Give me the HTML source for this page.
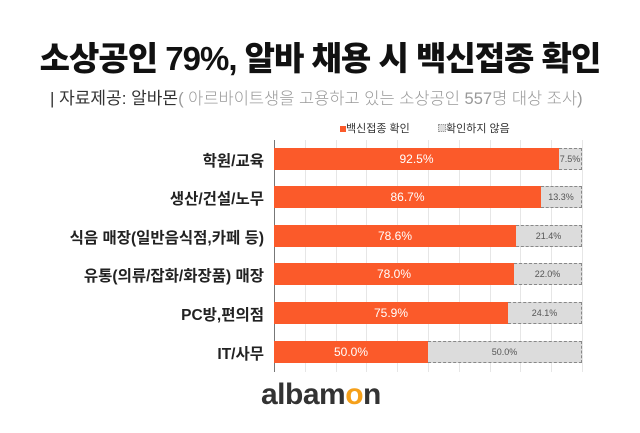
<!DOCTYPE html>
<html><head><meta charset="utf-8"><style>
body{margin:0;width:640px;height:433px;background:#fff;overflow:hidden;font-family:"Liberation Sans","Noto Sans CJK KR",sans-serif;position:relative}
.t{position:absolute;left:0;width:640px;text-align:center;top:32px;font-size:33px;font-weight:900;color:#111;letter-spacing:-1px}
.s{position:absolute;left:50px;top:84px;font-size:17px;color:#333}
.s span{color:#999;font-weight:300;font-size:16.5px}
.lg{position:absolute;top:120px;font-size:11px;color:#333}
.lab{position:absolute;right:376px;font-size:15.5px;font-weight:bold;color:#222;text-align:right;white-space:nowrap}
.bo{position:absolute;left:274px;height:22px;background:#fb5a2a;color:#fff;font-size:12px;text-align:center;line-height:22px}
.bg{position:absolute;height:21px;background:#dcdcdc;border:1px dashed #888;border-left:none;color:#555;font-size:9px;text-align:center;line-height:21px;box-sizing:border-box;height:22px}
.g{position:absolute;top:140px;height:232px;width:1px;background:#e6e6e6}
</style></head><body>
<div class="t">소상공인 79%, 알바 채용 시 백신접종 확인</div>
<div class="s">| 자료제공: 알바몬<span>( 아르바이트생을 고용하고 있는 소상공인 557명 대상 조사)</span></div>
<div class="lg" style="left:340px"><span style="display:inline-block;width:6px;height:6px;background:#fb5a2a"></span>백신접종 확인</div>
<div class="lg" style="left:438px"><span style="display:inline-block;width:6px;height:6px;background:#ddd;border:1px dotted #999"></span>확인하지 않음</div>
<div class="g" style="left:305px"></div><div class="g" style="left:336px"></div><div class="g" style="left:366px"></div><div class="g" style="left:397px"></div><div class="g" style="left:428px"></div><div class="g" style="left:459px"></div><div class="g" style="left:490px"></div><div class="g" style="left:520px"></div><div class="g" style="left:551px"></div><div class="g" style="left:582px"></div>
<div style="position:absolute;left:274px;top:140px;width:1px;height:232px;background:#777"></div>

<div class="lab" style="top:149px">학원/교육</div>
<div class="bo" style="top:148px;width:285px">92.5%</div><div class="bg" style="top:148px;left:559px;width:23px">7.5%</div>
<div class="lab" style="top:187px">생산/건설/노무</div>
<div class="bo" style="top:186px;width:267px">86.7%</div><div class="bg" style="top:186px;left:541px;width:41px">13.3%</div>
<div class="lab" style="top:226px">식음 매장(일반음식점,카페 등)</div>
<div class="bo" style="top:225px;width:242px">78.6%</div><div class="bg" style="top:225px;left:516px;width:66px">21.4%</div>
<div class="lab" style="top:264px">유통(의류/잡화/화장품) 매장</div>
<div class="bo" style="top:263px;width:240px">78.0%</div><div class="bg" style="top:263px;left:514px;width:68px">22.0%</div>
<div class="lab" style="top:303px">PC방,편의점</div>
<div class="bo" style="top:302px;width:234px">75.9%</div><div class="bg" style="top:302px;left:508px;width:74px">24.1%</div>
<div class="lab" style="top:342px">IT/사무</div>
<div class="bo" style="top:341px;width:154px">50.0%</div><div class="bg" style="top:341px;left:428px;width:154px">50.0%</div>

<div style="position:absolute;left:261px;top:378px;font-size:30px;font-weight:bold;color:#333;letter-spacing:-0.5px">alba<span>m</span><span style="color:#f5a01a">o</span>n</div>
</body></html>
